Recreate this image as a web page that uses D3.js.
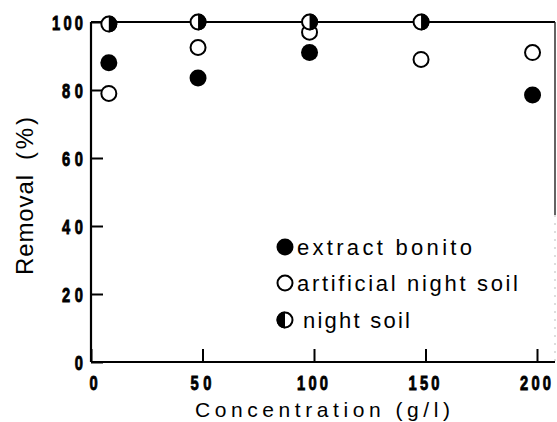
<!DOCTYPE html>
<html>
<head>
<meta charset="utf-8">
<script src="https://cdn.jsdelivr.net/npm/d3@7"></script>
<style>
  body { margin: 0; background: #fff; }
  .tick-num { font-family: "Liberation Sans", Arial, sans-serif; font-weight: bold; font-size: 21px; stroke: #000; stroke-width: 0.9px; }
  .label { font-family: "Liberation Sans", Arial, sans-serif; }
</style>
</head>
<body>
<div class="main-container"></div>
<script>
// data
const bonitoX = [8, 48, 98, 198];
const bonitoY = [88, 83.5, 91, 78.5];
const artificialX = [8, 48, 98, 148, 198];
const artificialY = [79, 92.5, 97, 89, 91];
const nightSoilX = [8, 48, 98, 148];
const nightSoilY = [99.4, 100, 100, 100];
const xTicks = [0, 50, 100, 150, 200];
const yTicks = [0, 20, 40, 60, 80, 100];
const legendLabels = ["extract bonito", "artificial night soil", "night soil"];

const width = 557, height = 422;
const plot = {left: 91, right: 555, top: 22, bottom: 362};
const squeeze = 0.7;
// visual width of tick numbers by digit count
const numWidth = d => String(d).length === 3 ? 31 : String(d).length === 2 ? 21 : null;

const svg = d3.select(".main-container")
  .append("svg")
  .attr("width", width)
  .attr("height", height);

const x = d3.scaleLinear().domain([0, 200]).range([plot.left, 537]);
const y = d3.scaleLinear().domain([0, 100]).range([plot.bottom, plot.top]);

// frame
svg.append("line")
  .attr("x1", plot.left).attr("x2", plot.right).attr("y1", plot.top).attr("y2", plot.top)
  .attr("stroke", "#000").attr("stroke-width", 2.2);
svg.append("line")
  .attr("x1", plot.right).attr("x2", plot.right).attr("y1", plot.top).attr("y2", 215)
  .attr("stroke", "#222").attr("stroke-width", 1.4);
svg.append("line")
  .attr("x1", plot.right).attr("x2", plot.right).attr("y1", 215).attr("y2", plot.bottom)
  .attr("stroke", "#bbb").attr("stroke-width", 1).attr("stroke-dasharray", "2,6");

function tickText(sel) {
  sel.attr("class", "tick-num")
    .attr("dy", "0.36em")
    .each(function(d) {
      const w = numWidth(d);
      if (w) d3.select(this).attr("textLength", w / squeeze).attr("lengthAdjust", "spacing");
    })
    .text(d => d);
}

// y axis
const yAxis = svg.append("g")
  .attr("transform", `translate(${plot.left},0)`)
  .call(d3.axisRight(y).tickValues(yTicks).tickSize(12).tickFormat(""));
yAxis.select(".domain").attr("stroke-width", 2.2).attr("d", `M0,${plot.top}V${plot.bottom}`);
yAxis.selectAll(".tick line").attr("stroke-width", 2);
svg.append("g").selectAll("text")
  .data(yTicks)
  .join("text")
  .attr("transform", d => `translate(83,${y(d)}) scale(${squeeze},1)`)
  .attr("text-anchor", "end")
  .call(tickText);

// x axis
const xAxis = svg.append("g")
  .attr("transform", `translate(0,${plot.bottom})`)
  .call(d3.axisTop(x).tickValues(xTicks).tickSize(13).tickFormat(""));
xAxis.select(".domain").attr("stroke-width", 2.2).attr("d", `M${plot.left},0H${plot.right}`);
xAxis.selectAll(".tick line").attr("stroke-width", 2);
svg.append("g").selectAll("text")
  .data(xTicks)
  .join("text")
  .attr("transform", d => `translate(${d === 0 ? x(d) + 2.5 : x(d) - 1.5},382) scale(${squeeze},1)`)
  .attr("text-anchor", "middle")
  .call(tickText);

// axis titles
svg.append("text")
  .attr("class", "label")
  .attr("transform", "translate(33,275) rotate(-90)")
  .attr("font-size", 24)
  .attr("textLength", 100)
  .attr("lengthAdjust", "spacing")
  .text("Removal");
svg.append("text")
  .attr("class", "label")
  .attr("transform", "translate(33,160) rotate(-90)")
  .attr("font-size", 24)
  .attr("textLength", 43)
  .attr("lengthAdjust", "spacing")
  .text("(%)");

svg.append("text")
  .attr("class", "label")
  .attr("x", 195)
  .attr("y", 417)
  .attr("font-size", 21)
  .attr("textLength", 255)
  .attr("lengthAdjust", "spacing")
  .text("Concentration (g/l)");

const r = 8.5;

// half-filled marker
function halfMarker(g, cx, cy, leftFilled) {
  g.append("circle").attr("cx", cx).attr("cy", cy).attr("r", r - 1)
    .attr("fill", "#fff").attr("stroke", "#000").attr("stroke-width", 2);
  const s = leftFilled ? 0 : 1;
  g.append("path")
    .attr("d", `M${cx},${cy - r}A${r},${r} 0 0 ${s} ${cx},${cy + r}Z`)
    .attr("fill", "#000");
}

// artificial night soil: open circles
svg.append("g").selectAll("circle")
  .data(d3.zip(artificialX, artificialY))
  .join("circle")
  .attr("cx", d => x(d[0]))
  .attr("cy", d => y(d[1]))
  .attr("r", r - 1)
  .attr("fill", "#fff")
  .attr("stroke", "#000")
  .attr("stroke-width", 2);

// night soil
const ns = svg.append("g");
d3.zip(nightSoilX, nightSoilY).forEach(d => halfMarker(ns, x(d[0]), y(d[1]), false));

// extract bonito: filled circles
svg.append("g").selectAll("circle")
  .data(d3.zip(bonitoX, bonitoY))
  .join("circle")
  .attr("cx", d => x(d[0]))
  .attr("cy", d => y(d[1]))
  .attr("r", r)
  .attr("fill", "#000");

// legend
const legend = svg.append("g");
const lx = 285, ly = [247, 283, 320];
const legendTextX = [297, 297, 303], legendTextW = [175, 221, 107];
legend.append("circle").attr("cx", lx).attr("cy", ly[0]).attr("r", r).attr("fill", "#000");
legend.append("circle").attr("cx", lx).attr("cy", ly[1]).attr("r", r - 1)
  .attr("fill", "#fff").attr("stroke", "#000").attr("stroke-width", 2);
halfMarker(legend, lx, ly[2], true);
legend.selectAll("text")
  .data(legendLabels)
  .join("text")
  .attr("class", "label")
  .attr("x", (d, i) => legendTextX[i])
  .attr("y", (d, i) => ly[i])
  .attr("dy", "0.36em")
  .attr("font-size", 22)
  .attr("textLength", (d, i) => legendTextW[i])
  .attr("lengthAdjust", "spacing")
  .text(d => d);
</script>
</body>
</html>
